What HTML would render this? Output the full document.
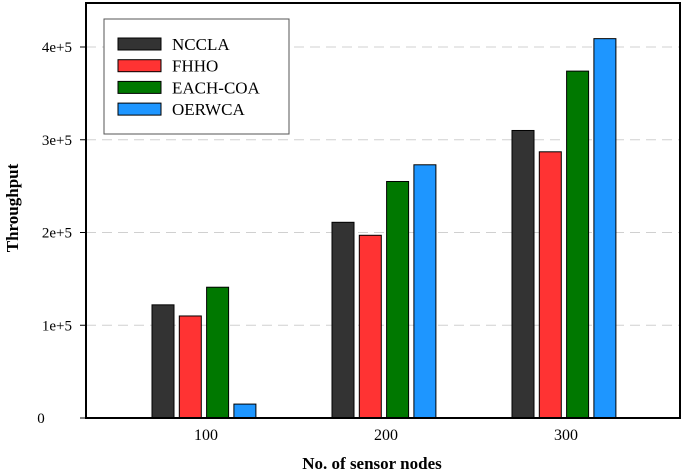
<!DOCTYPE html>
<html><head><meta charset="utf-8"><style>body{margin:0;background:#fff}svg{display:block}text{font-family:"Liberation Serif",serif}</style></head>
<body>
<svg id="c" width="685" height="475"></svg>
<script>
const categories=["100","200","300"];
const seriesNames=["NCCLA","FHHO","EACH-COA","OERWCA"];
const colors=["#333333","#ff3333","#007800","#1e96ff"];
const nccla=[122000,211000,310000];
const fhho=[110000,197000,287000];
const eachcoa=[141000,255000,374000];
const oerwca=[15000,273000,409000];
const seriesValues=[nccla,fhho,eachcoa,oerwca];
const yTicks=[0,100000,200000,300000,400000];
const yTickLabels=["0","1e+5","2e+5","3e+5","4e+5"];
const svg=document.getElementById('c');const NS='http://www.w3.org/2000/svg';
function mk(t,a,p){const e=document.createElementNS(NS,t);for(const k in a)e.setAttribute(k,a[k]);(p||svg).appendChild(e);return e;}
const L=86,R=680,T=3,B=418;
const y=v=>B-v*(B-47)/400000;
const xc=i=>204+i*180;
yTicks.forEach((v,i)=>{
 if(v>0){const g=mk('line',{x1:L,x2:R,y1:y(v),y2:y(v),stroke:'#d0d0d0','stroke-dasharray':'10,6','stroke-width':1});
 
 }
 const tk=mk('line',{x1:L-6,x2:L,y1:y(v),y2:y(v),stroke:'#000'});
 
 
 const t=v===0?mk('text',{x:41,y:y(v)+5,'text-anchor':'middle','font-size':15}):mk('text',{x:72,y:y(v)+5,'text-anchor':'end','font-size':15});
 t.textContent=yTickLabels[i];
 
 
});
seriesValues.forEach((arr,s)=>{arr.forEach((v,i)=>{
 const x=xc(i)-52+s*27.3;
 const r=mk('rect',{x:x,y:y(v),width:22,height:B-y(v),fill:colors[s],stroke:'#000','stroke-width':1});
 
 
});});
categories.forEach((c,i)=>{
 const t=mk('text',{x:xc(i)+2,y:B+22,'text-anchor':'middle','font-size':16});t.textContent=c;
 
 
});
const fr=mk('rect',{x:L,y:T,width:R-L,height:B-T,fill:'none',stroke:'#000','stroke-width':2});


const xt=mk('text',{x:372,y:469,'text-anchor':'middle','font-size':17,'font-weight':'bold'});xt.textContent='No. of sensor nodes';


const yt=mk('text',{x:0,y:0,'text-anchor':'middle','font-size':17,'font-weight':'bold',transform:'translate(18,208) rotate(-90)'});yt.textContent='Throughput';


const lg=mk('g',{});


mk('rect',{x:104,y:19,width:185,height:115,fill:'#fff',stroke:'#555','stroke-width':1},lg);
seriesNames.forEach((n,s)=>{
 const cy=44+s*21.7;
 const sw=mk('rect',{x:118,y:cy-6,width:43,height:12,fill:colors[s],stroke:'#000'},lg);
 
 
 const t=mk('text',{x:172,y:cy+6,'font-size':17},lg);t.textContent=n;
 
 
});
</script>
</body></html>
